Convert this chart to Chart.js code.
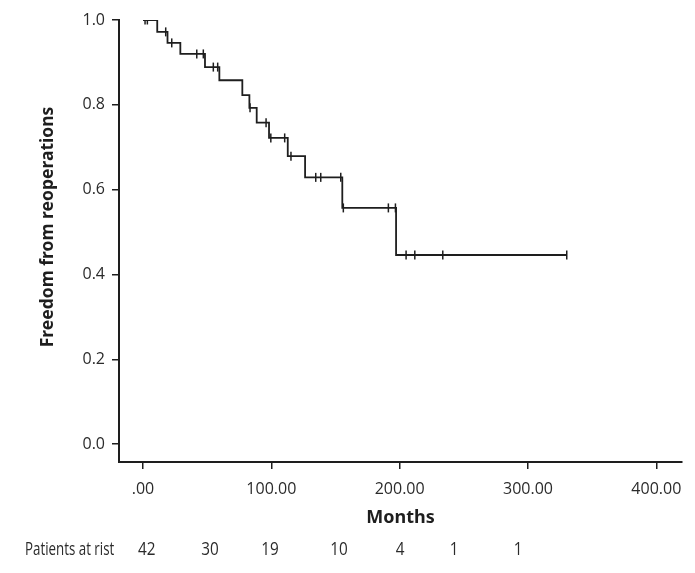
<!DOCTYPE html>
<html>
<head>
<meta charset="utf-8">
<script src="https://cdn.jsdelivr.net/npm/chart.js@4"></script>
<style>
  html, body { margin: 0; padding: 0; background: #fff; }
  #wrap { width: 695px; height: 573px; }
</style>
</head>
<body>
<div id="wrap"><canvas id="kmChart" width="695" height="573"></canvas></div>
<script>
// Kaplan-Meier: freedom from reoperation
const eventTimes = [0, 11.1, 19.1, 29.1, 48.3, 59.5, 77.4, 82.9, 88.6, 98.2, 112.8, 126.3, 155.3, 197.2, 330.2];
const survival   = [1.0, 0.972, 0.946, 0.920, 0.889, 0.858, 0.823, 0.793, 0.758, 0.722, 0.679, 0.629, 0.557, 0.446, 0.446];
const censorTimes = [1.6, 3.4, 17.7, 22.4, 41.9, 47.0, 54.8, 58.2, 83.4, 95.9, 99.6, 110.4, 115.3,
                     134.6, 138.5, 154.1, 156.1, 191.2, 196.7, 205.0, 211.8, 233.6, 330.2];
const xTicks = [0, 100, 200, 300, 400];
const yTicks = [0, 0.2, 0.4, 0.6, 0.8, 1.0];
const riskTimes = [2.9, 52.2, 99, 152.8, 200.3, 242.4, 292.3];
const riskCounts = [42, 30, 19, 10, 4, 1, 1];

const TXT = '#2b2b2b';
const AX = '#1e1e1e';
const sans = '"Open Sans", sans-serif';

// survival at time t (value of the step just reached)
function survAt(t) {
  let s = survival[0];
  for (let i = 0; i < eventTimes.length; i++) {
    if (eventTimes[i] <= t) s = survival[i];
  }
  return s;
}

const curve = eventTimes.map((t, i) => ({ x: t, y: survival[i] }));
const censored = censorTimes.map(t => ({ x: t, y: survAt(t) }));

// narrow text helper (reference font is condensed)
function narrowText(ctx, txt, x, y, sx) {
  ctx.save();
  ctx.translate(x, y);
  ctx.scale(sx, 1);
  ctx.fillText(txt, 0, 0);
  ctx.restore();
}

// y title + patients at risk row
const extras = {
  id: 'extras',
  afterDraw(chart) {
    const { ctx, scales } = chart;
    ctx.save();
    ctx.fillStyle = '#1e1e1e';
    ctx.font = 'bold 17.5px "Noto Sans", sans-serif';
    ctx.translate(48, 227);
    ctx.rotate(-Math.PI / 2);
    ctx.textAlign = 'center';
    ctx.textBaseline = 'middle';
    ctx.fillText('Freedom from reoperations', 0, 0);
    ctx.restore();

    ctx.save();
    ctx.fillStyle = TXT;
    ctx.font = '18px ' + sans;
    ctx.textBaseline = 'middle';
    ctx.textAlign = 'left';
    narrowText(ctx, 'Patients at rist', 25, 550, 0.74);
    ctx.textAlign = 'center';
    riskTimes.forEach((t, i) => {
      narrowText(ctx, String(riskCounts[i]), scales.x.getPixelForValue(t), 550, 0.85);
    });
    ctx.restore();
  }
};

new Chart(document.getElementById('kmChart'), {
  type: 'scatter',
  data: {
    datasets: [
      {
        type: 'line',
        data: curve,
        stepped: true,
        borderColor: AX,
        borderWidth: 1.8,
        pointRadius: 0,
        fill: false
      },
      {
        data: censored,
        pointStyle: 'line',
        rotation: 90,
        radius: 4.5,
        borderColor: AX,
        borderWidth: 1.5,
        backgroundColor: AX
      }
    ]
  },
  options: {
    responsive: false,
    animation: false,
    layout: { padding: { top: 20, right: 13, left: 0, bottom: 0 } },
    plugins: { legend: { display: false }, tooltip: { enabled: false } },
    scales: {
      x: {
        type: 'linear',
        min: -18.7,
        max: 420,
        afterBuildTicks: s => { s.ticks = xTicks.map(v => ({ value: v })); },
        afterFit: s => { s.height = 111; },
        grid: { drawOnChartArea: false, drawTicks: true, tickLength: 7, color: AX, lineWidth: 1.5 },
        border: { color: AX, width: 2 },
        ticks: {
          color: TXT,
          padding: 11,
          font: { family: sans, size: 16 },
          callback: v => v === 0 ? '.00' : v.toFixed(2)
        },
        title: {
          display: true,
          text: 'Months',
          color: '#1e1e1e',
          font: { family: '"Noto Sans", sans-serif', size: 18, weight: 'bold' },
          padding: { top: 0, bottom: 44 }
        }
      },
      y: {
        min: -0.042,
        max: 1.0,
        afterBuildTicks: s => { s.ticks = yTicks.map(v => ({ value: v })); },
        afterFit: s => { s.width = 119; },
        grid: { drawOnChartArea: false, drawTicks: true, tickLength: 7, color: AX, lineWidth: 1.5 },
        border: { color: AX, width: 2 },
        ticks: {
          color: TXT,
          padding: 7,
          font: { family: sans, size: 16 },
          callback: v => v.toFixed(1)
        }
      }
    }
  },
  plugins: [extras]
});
</script>
</body>
</html>
